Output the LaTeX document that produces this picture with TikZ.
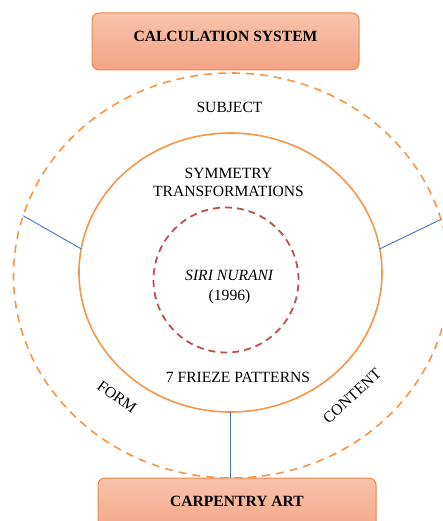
\documentclass[tikz,border=0pt]{standalone}
\usepackage{fontspec}
\setmainfont{Liberation Serif}
\usetikzlibrary{shapes.geometric}
\definecolor{ringorange}{HTML}{F79646}
\definecolor{boxline}{HTML}{EE8A4C}
\definecolor{boxtop}{HTML}{F8C3AA}
\definecolor{boxbottom}{HTML}{F4A484}
\definecolor{nuranired}{HTML}{C0504D}
\definecolor{linkblue}{HTML}{4472C4}
\begin{document}
\begin{tikzpicture}[x=1pt,y=-1pt,
	titlebox/.style={draw=boxline, line width=1pt, rounded corners=7pt, top color=boxtop, bottom color=boxbottom,
		font=\fontsize{15.6}{18.5}\selectfont\bfseries, text depth=10pt, minimum height=57pt, inner sep=0pt, outer sep=0pt},
	ring/.style={ellipse, inner sep=0pt, outer sep=0pt, line width=1.6pt},
	ringtext/.style={font=\fontsize{15.6}{18.5}\selectfont, inner sep=0pt},
	link/.style={draw=linkblue, line width=0.9pt}]
	\useasboundingbox (0,0) rectangle (443,521);
	\clip (0,0) rectangle (443,521);

	% Rings
	\node[ring, draw=ringorange, dash pattern=on 8pt off 6pt, minimum width=436pt, minimum height=405pt] (subject) at (231.5,275.5) {};
	\node[ring, draw=ringorange, minimum width=303pt, minimum height=279pt] (transf) at (230.5,272.5) {};
	\node[circle, draw=nuranired, line width=1.8pt, dash pattern=on 7pt off 5pt, minimum size=145pt, inner sep=0pt] (siri) at (226,280) {};

	% Boxes
	\node[titlebox, minimum width=267pt] (calc) at (225.5,41.5) {CALCULATION SYSTEM};
	\node[titlebox, minimum width=278pt] (carp) at (237,506.5) {CARPENTRY ART};

	% Texts
	\node[ringtext] (subjtext) at (229.5,107) {SUBJECT};
	\node[ringtext, align=center] (symtext) at (228.5,182.5) {SYMMETRY\\TRANSFORMATIONS};
	\node[ringtext, align=center] (siritext) at (229.5,287) {\textit{SIRI NURANI}\\[2pt](1996)};
	\node[ringtext] (frieze) at (238,377.5) {7 FRIEZE PATTERNS};
	\node[ringtext, rotate=-36] (form) at (117,397) {FORM};
	\node[ringtext, rotate=43] (content) at (352,396) {CONTENT};

	% Links
	\draw[link] (subject.164) -- (transf.171);
	\draw[link] (subject.15) -- (transf.9);
	\draw[link] (transf.south) -- (transf.south |- carp.north);
\end{tikzpicture}
\end{document}
